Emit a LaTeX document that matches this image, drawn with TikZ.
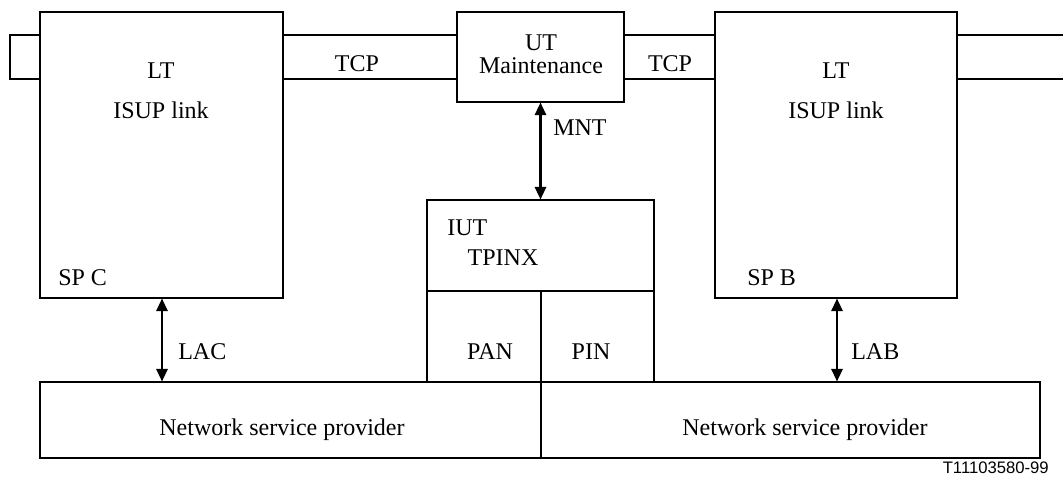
\documentclass[tikz,border=0pt]{standalone}
\usepackage{fontspec}
\setmainfont{Liberation Serif}
\newfontfamily\labelsans{Liberation Sans}
\usetikzlibrary{fit,arrows.meta}
\begin{document}
\begin{tikzpicture}[x=0.75pt,y=-0.75pt,
  box/.style={draw,line width=0.8pt,inner sep=0pt},
  thinline/.style={line width=0.8pt},
  divline/.style={line width=1.5pt},
  biarrow/.style={line width=1.6pt,{Triangle[width=8.5pt,length=9.5pt]}-{Triangle[width=8.5pt,length=9.5pt]}},
  txt/.style={font=\fontsize{18}{21}\selectfont,inner sep=0pt},
  ]
\useasboundingbox (0,0) rectangle (1063,481);
% boxes
\node[box,fit={(40,12) (283,298)}] (ltl) {};
\node[box,fit={(715,12) (957,298)}] (ltr) {};
\node[box,fit={(457,12) (624,102)}] (ut) {};
\node[box,fit={(427,200) (654,382)}] (iut) {};
\node[box,fit={(40,382) (1040,458)}] (net) {};
% rail coordinates
\coordinate (ra) at (0,35);
\coordinate (rb) at (0,79);
\coordinate (stubx) at (10,0);
\coordinate (edgex) at (1063,0);
\coordinate (divy) at (0,291);
\coordinate (lacx) at (162,0);
\coordinate (labx) at (837,0);
% left stub
\draw[thinline] (ltl.west |- ra) -- (stubx |- ra) -- (stubx |- rb) -- (ltl.west |- rb);
% TCP rails
\draw[thinline] (ltl.east |- ra) -- (ut.west |- ra);
\draw[thinline] (ltl.east |- rb) -- (ut.west |- rb);
\draw[thinline] (ut.east |- ra) -- (ltr.west |- ra);
\draw[thinline] (ut.east |- rb) -- (ltr.west |- rb);
\draw[thinline] (ltr.east |- ra) -- (edgex |- ra);
\draw[thinline] (ltr.east |- rb) -- (edgex |- rb);
% IUT dividers
\draw[divline] (iut.west |- divy) -- (iut.east |- divy);
\draw[divline] (iut.center |- divy) -- (iut.center |- net.south);
% arrows
\draw[biarrow] (ut.south) -- (iut.north);
\draw[biarrow] (ltl.south -| lacx) -- (net.north -| lacx);
\draw[biarrow] (ltr.south -| labx) -- (net.north -| labx);
% texts
\node[txt] (lt1) at (161,71) {LT};
\node[txt] (isup1) at (161,110) {ISUP link};
\node[txt,anchor=west] (spc) at (58,278) {SP C};
\node[txt] (lt2) at (836,71) {LT};
\node[txt] (isup2) at (836,110) {ISUP link};
\node[txt,anchor=west] (spb) at (747,278) {SP B};
\node[txt] (tcp1) at (357,64) {TCP};
\node[txt] (tcp2) at (670,64) {TCP};
\node[txt] (utl) at (541,43) {UT};
\node[txt] (mnl) at (541,66) {Maintenance};
\node[txt,anchor=west] (mnt) at (553,128) {MNT};
\node[txt,anchor=west] (iutl) at (447,228) {IUT};
\node[txt] (tpinx) at (503,258) {TPINX};
\node[txt] (pan) at (490,352) {PAN};
\node[txt] (pin) at (591,352) {PIN};
\node[txt,anchor=west] (lac) at (178,352) {LAC};
\node[txt,anchor=west] (lab) at (851,352) {LAB};
\node[txt] (nsp1) at (282,430) {Network service provider};
\node[txt] (nsp2) at (805,430) {Network service provider};
\node[font=\labelsans\fontsize{12.5}{14}\selectfont,inner sep=0pt,anchor=east] (code) at (1049,468) {T11103580-99};
\end{tikzpicture}
\end{document}
